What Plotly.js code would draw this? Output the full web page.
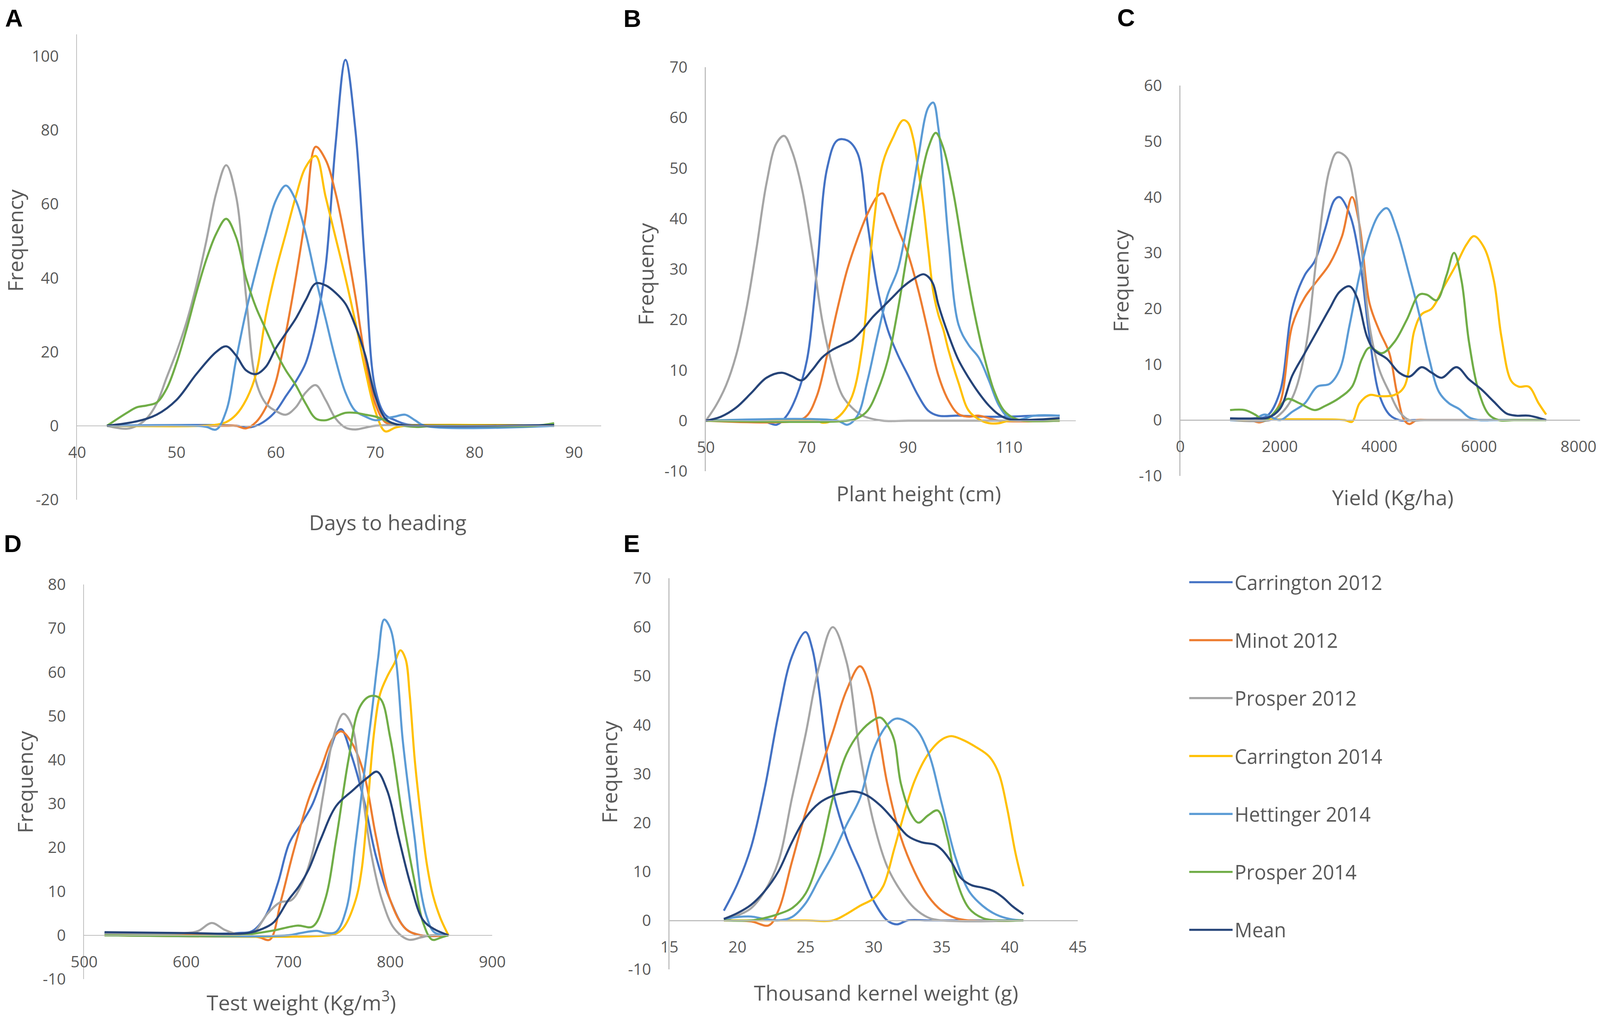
<!DOCTYPE html>
<html><head><meta charset="utf-8">
<script src="https://cdn.plot.ly/plotly-3.0.1.min.js"></script>
<style>html,body{margin:0;padding:0;background:#fff;overflow:hidden}</style>
</head><body><div id="chart"></div>
<script>
// ---------------- DATA ----------------
const seriesNames = ['Carrington 2012','Minot 2012','Prosper 2012','Carrington 2014','Hettinger 2014','Prosper 2014','Mean'];
const seriesColors = ['#4472C4','#ED7D31','#A5A5A5','#FFC000','#5B9BD5','#70AD47','#264478'];

// Panel A: Days to heading (order follows seriesNames)
const dthX = [
  [43,56,57,58,59,60,61,62,63,64,65,66,67,68,69,70,71,72,73,75,88],
  [43,55,56,57,58,59,60,61,62,63,64,65,66,67,68,69,70,71,72,74,88],
  [43,45,46,47,48,49,50,51,52,53,54,55,56,57,58,59,60,61,62,63,64,65,66,67,68,69,70,88],
  [43,53,54,55,56,57,58,59,60,61,62,63,64,65,66,67,68,69,70,71,72,73,88],
  [43,52,53,54,55,56,57,58,59,60,61,62,63,64,65,66,67,68,69,70,71,72,73,74,75,88],
  [43,45,46,47,48,49,50,51,52,53,54,55,56,57,58,59,60,61,62,63,64,65,66,67,68,69,70,71,72,74,76,86,88],
  [43,46,48,50,52,54,55,56,57,58,59,60,61,62,63,64,65,66,67,68,69,70,71,72,75,88]
];
const dthY = [
  [0,0,-0.5,0,1.5,4,8,12,17,27,43,76,99,80,42,10,3,1.5,0.5,0,0],
  [0,0,0,-0.7,1,5,12,25,40,57,75.5,72,63,50,35,18,6,1,0.3,0,0],
  [0,-0.8,0,2,6,13,20,28,38,50,63,70.5,62,35,12,6,4,3,5,9,11,7,2,-0.5,-1,-0.5,0,0],
  [0,0,0.3,1,3,7,14,30,42,52,62,70,73,62,51,40,28,15,4,-1.5,-0.5,0,0],
  [0,0,-0.3,-1,4,18,31,42,52,61,65,61,52,40,29,18,9,4,2.5,1.5,2,2.5,3,1.5,0,0],
  [0,3.5,5,5.5,6.3,10,17,26,36,45,52,56,51,40,32,26,20,15,11,6,2,1.5,2.5,3.5,3.5,3,2.5,1.5,0.5,-0.3,0,0,0.7],
  [0,1.2,3,7,14,20,21.5,19,15,14,16,21,25,29,34,38.5,38,36,33,27,19,8,2,0.5,0,0.2]
];

// Panel B: Plant height (cm)
const phX = [
  [50,60,62,64,66,68,70,72,74,76,78,80,82,84,86,88,90,92,94,96,100,105,110,115,120],
  [50,68,70,72,74,76,78,80,82,84,85,86,88,90,92,94,96,98,100,102,104,106,108,120],
  [50,52,54,56,58,60,62,64,65.5,67,69,71,73,75,77,79,81,85,90,100,120],
  [50,72,73,75,77,79,81,83,85,87,89,90,91,92,93,94,95,96,97,98,100,102,104,106,108,110,120],
  [50,76,78,80,82,84,86,88,90,92,94,95,96,97,98,100,102,104,106,108,110,112,115,120],
  [50,78,80,82,84,86,88,90,92,94,95.5,97,99,101,103,105,107,109,111,113,120],
  [50,53,56,59,62,65,67,69,71,73,75,77,79,81,83,85,87,89,91,93,94,95,96,98,100,102,104,106,108,110,120]
];
const phY = [
  [0,0,-0.3,-0.8,1,5,12,30,50,55.5,55.5,53,39,26,18,13,9,5,2,1,1,0.8,0.8,1,1],
  [0,0,1,5,13,22,30,36,41,44.5,45,43,38,33,26,17.5,9,4,1.3,0.8,1,0.5,0,0],
  [0,3,7,13,22,34,47,55,56.4,53.5,46,34,20,11,5,2.5,1,0,0,0,0],
  [0,0,-0.4,0,1.5,5,15,37,51,56,59.5,59,56,50,43,34,25.5,21,18,14,7.5,2,0.3,-0.5,-0.5,0,0],
  [0,0,-0.8,1,8,17,25,30,40,52,62,63,58,48,36,19,15,12.5,8,3,0.5,0.2,1,1],
  [0,0,0.5,2,6,12,22,34,45,54,57,54,45,33,22,13,6,2,0.5,0,0],
  [0,0.8,2.6,5.5,8.5,9.5,8.8,8,10,12.5,14,15,16,18,20.5,22.5,24.5,26.5,28,29,28.5,27,23,17,12,8.5,5.5,3,1.2,0.3,0.5]
];

// Panel C: Yield (Kg/ha)
const yldX = [
  [1000,1500,1750,2000,2250,2500,2700,2900,3100,3200,3400,3600,3800,4000,4200,4400,4700,7350],
  [1000,1400,1600,1800,2000,2250,2500,2750,3000,3250,3450,3600,3800,4000,4200,4350,4500,4600,4750,5000,5500,7350],
  [1000,1800,2000,2250,2500,2750,3000,3150,3350,3500,3650,3800,4000,4200,4400,4600,4900,7350],
  [1000,3300,3450,3600,3800,4000,4300,4500,4700,4850,5050,5300,5550,5750,5900,6100,6300,6450,6650,6800,7000,7200,7350],
  [1000,1500,1700,2000,2250,2500,2750,3000,3200,3400,3600,3800,4000,4150,4350,4600,4800,5000,5200,5400,5600,5800,6000,6300,7350],
  [1000,1300,1500,1700,2000,2150,2400,2700,2900,3200,3450,3650,3800,4050,4300,4550,4800,4950,5150,5350,5500,5650,5800,6000,6200,6400,6700,7350],
  [1000,1500,1750,2000,2250,2500,2750,3000,3200,3400,3550,3750,3900,4150,4400,4600,4850,5050,5250,5550,5800,6050,6300,6550,6750,7000,7350]
];
const yldY = [
  [0.3,0.3,0.8,5,20,26,28.5,34,39.5,40,37,29,15,4.5,1,0,0,0],
  [0,0,-0.4,0.5,3,17,22,25,28,33,40,35,21,16,12,5,0,-0.7,0,0,0,0],
  [0,0,1,4,12,30,45,48,47,42,30,17,9,5,1.5,0,0,0],
  [0,0,-0.3,3,4.5,4.3,4.5,6,16,19,20,24,28,31.5,33,31,25,15,7,6,6,3,1],
  [0,0.3,1,0,1.5,3,6,6.5,9,17,26,33,37,38,34,26,19,11,5,3,2,0.5,0,0,0],
  [1.8,1.8,1,0,2.5,3.8,3,1.8,2.5,4,6,11,13,12,14,18,22.5,22.5,21.5,26,30,25,14,5,1,0,0,0],
  [0.3,0.3,0.4,2,8,12,16,20,23,24,22,15,12.5,11,8.5,7.8,9.5,8.5,7.6,9.5,7.3,5.5,3.3,1.2,0.8,0.8,0]
];

// Panel D: Test weight (Kg/m3)
const twX = [
  [520,650,665,678,690,701,713,724,736,747,752,762,774,786,800,815,830,857],
  [520,660,672,682,693,705,720,732,744,752,762,774,786,800,815,830,857],
  [520,600,612,625,638,650,665,680,692,703,713,724,735,744,754,762,770,781,792,804,818,830,840,857],
  [520,740,748,755,766,772,778,784,790,797,804,810,815,819,824,830,836,842,849,857],
  [520,700,712,728,737,747,757,766,775,782,788,794,800,806,812,818,824,830,836,843,857],
  [520,650,667,686,709,724,736,747,759,770,780,790,800,812,824,832,841,850,857],
  [520,600,660,675,686,700,710,720,732,747,763,778,787,797,808,820,832,843,857]
];
const twY = [
  [0.5,0.5,1,4.5,12,21,25.5,30,38,46,47,41,31,18,8,1.5,0,0],
  [0,0,-0.5,-1,8,19,31,38,45,46.5,44,37,22.5,8,1.5,0,0],
  [0.5,0.5,1,2.8,1.2,0.3,0.5,5,7.5,8,11.5,19,33,45,50.5,48,37,19,8,1.5,-1,-0.5,0,0],
  [0,0,0.5,2,8,15,30,46,55,59,62,65,63,55,40,27,16,9,4,0],
  [0,0,0.5,1,0.5,0.8,6,21,38,51,63,72,70,62,45,33,22,10,4,0.7,0],
  [0,0,0.4,1.1,2.2,2,8,22,40,52,54.5,54,45,27,12,3,-1,-0.5,0],
  [0.7,0.5,0.5,1.5,3,8,11,15,22,29.5,33,36,37.3,33,22.5,11.5,3.5,1.4,0]
];

// Panel E: Thousand kernel weight (g)
const tkwX = [
  [19,20,21,22,23,24,25,25.5,26,26.5,27,28,29,30,31,31.7,32.5,34,37,41],
  [19,21,22.3,23,24,25,26,27,28,29,29.7,30.5,31,32,33,34,35,36,37,41],
  [19,20,21,22,23,24,25,26,27,28,29,30,31,32,33,34,35,41],
  [19,22,25,27,28,29,30,30.7,31.5,32,33,34,35,35.7,36.5,37.5,38.5,39.2,39.8,40.4,41],
  [19,20,21,22,23,24,25,26,27,28,29,30,31,31.7,33,34,35,36,37,38,39,40,41],
  [19,21,22,23,24,25,26,27,28,29,30,30.5,31,31.5,32,32.8,33.3,34,34.7,35.4,36,37,38,39,41],
  [19,20,21,22,23,24,25,26,27,28,28.5,29.5,30.5,31.5,32.5,33.5,34.5,35,35.7,36.4,37.2,38,38.8,39.5,40.2,41]
];
const tkwY = [
  [2,7.5,15,27,42,54,59,55.5,47,35,26.5,17,10.5,4,0,-0.8,0,0,0,0],
  [0,-0.2,-1,2,12,22,30,38.5,47,52,48,36,28,17,10,5,2,0.5,0,0],
  [0,1,2.5,6,12,25,38,52,60,53,34,20,11,6,2.5,0.6,0,0],
  [0,0,0,0,1.3,3,4.5,7,14.5,19.5,28.5,34,37,37.7,37,35.5,33.5,30,23,14,7],
  [0.3,0.7,0.8,0.3,0,0.7,3.5,8.5,13.5,19.5,25,35,40,41.3,39.5,34.5,24,13,6,3,1.2,0.3,0],
  [0,0,0.5,1.3,2.5,5.5,13,25,34,38.5,41,41.5,40,37,28,21.5,20,21.5,22.5,17,9,2.5,0.5,0,0],
  [0.3,1.5,3.2,6,10,16,21,24,25.5,26.2,26.4,25.6,23.5,20.5,17.3,16,15.5,14.5,12,8.7,7.2,6.7,6,4.7,2.9,1.3]
];

// Tick labels
const dthTicks = [40,50,60,70,80,90];
const phTicks = [50,70,90,110];
const yldTicks = [0,2000,4000,6000,8000];
const twTicks = [500,600,700,800,900];
const tkwTicks = [15,20,25,30,35,40,45];
const freqTicksA = [-20,0,20,40,60,80,100];
const freqTicksB = [-10,0,10,20,30,40,50,60,70];
const freqTicksC = [-10,0,10,20,30,40,50,60];
const freqTicksD = [-10,0,10,20,30,40,50,60,70,80];
const freqTicksE = [-10,0,10,20,30,40,50,60,70];
const panelLetters = ['A','B','C','D','E'];
const xTitles = ['Days to heading','Plant height (cm)','Yield (Kg/ha)','Test weight (Kg/m<sup>3</sup>)','Thousand kernel weight (g)'];
const yTitle = 'Frequency';

// ---------------- LAYOUT ----------------
// Reference frame is 4563 x 2603; the chart is fitted to the actual viewport.
const RW = 4563, RH = 2603;
const W = window.innerWidth || document.documentElement.clientWidth || RW;
const H = window.innerHeight || document.documentElement.clientHeight || RH;
const S = W / RW;
const SY = H / RH;
const fx = px => px / RW;
const fy = py => 1 - py / RH;
const GRAY = '#595959';
const FONT = 'Open Sans, Noto Sans, sans-serif';

const chartDiv = document.getElementById('chart');
chartDiv.style.width = W + 'px';
chartDiv.style.height = H + 'px';

const panels = [
  {xs:dthX, ys:dthY, xt:dthTicks, yt:freqTicksA, xr:[40,92.75], yr:[-20,105.9], px:[220,1715], py:[88,1279],
   letter:[40,46], xtitle:[1106,1336], ytitle:[42,616]},
  {xs:phX, ys:phY, xt:phTicks, yt:freqTicksB, xr:[50,123.2], yr:[-10,70], px:[2013,3068], py:[172,1206],
   letter:[1803,47], xtitle:[2620,1262], ytitle:[1840,702]},
  {xs:yldX, ys:yldY, xt:yldTicks, yt:freqTicksC, xr:[0,8030], yr:[-10,60], px:[3366,4506], py:[219,1218],
   letter:[3211,45], xtitle:[3972,1272], ytitle:[3195,719]},
  {xs:twX, ys:twY, xt:twTicks, yt:freqTicksD, xr:[500,900], yr:[-10,80], px:[240,1404], py:[1496,2506],
   letter:[36,1391], xtitle:[859,2562], ytitle:[70,2002]},
  {xs:tkwX, ys:tkwY, xt:tkwTicks, yt:freqTicksE, xr:[15,45], yr:[-10,70], px:[1909,3074], py:[1480,2481],
   letter:[1801,1391], xtitle:[2527,2540], ytitle:[1737,1976]}
];

const legFont = 56 * S;
const traces = [];
const layout = {
  width: W, height: H,
  margin: {l:0, r:0, t:0, b:0},
  paper_bgcolor: '#ffffff', plot_bgcolor: '#ffffff',
  showlegend: true,
  legend: {
    x: fx(3386), xanchor: 'left', y: fy(1451), yanchor: 'top',
    font: {family: FONT, size: legFont, color: GRAY},
    itemwidth: Math.max(30, Math.round(124 * S)), traceorder: 'grouped',
    tracegroupgap: Math.max(0, 148.6 * SY - 1.366 * legFont),
    bgcolor: 'rgba(0,0,0,0)'
  },
  annotations: []
};

panels.forEach((p, k) => {
  const sfx = k === 0 ? '' : String(k + 1);
  const xDom = [fx(p.px[0]), fx(p.px[1])];
  const yDom = [fy(p.py[1]), fy(p.py[0])];
  const zeroPos = yDom[0] + (0 - p.yr[0]) / (p.yr[1] - p.yr[0]) * (yDom[1] - yDom[0]);
  const tickfont = {family: FONT, size: 45 * S, color: GRAY};
  layout['xaxis' + sfx] = {
    domain: xDom, range: p.xr, anchor: 'free', position: zeroPos,
    tickmode: 'array', tickvals: p.xt, ticktext: p.xt.map(String),
    showline: true, linecolor: '#BFBFBF', linewidth: 3 * S, showgrid: false, zeroline: false,
    ticks: '', tickfont: tickfont, ticklabelstandoff: Math.round(32 * SY), fixedrange: true
  };
  layout['yaxis' + sfx] = {
    domain: yDom, range: p.yr, anchor: 'x' + sfx,
    tickmode: 'array', tickvals: p.yt, ticktext: p.yt.map(String),
    showline: true, linecolor: '#BFBFBF', linewidth: 3 * S, showgrid: false, zeroline: false,
    ticks: '', tickfont: tickfont, ticklabelstandoff: Math.round(40 * S), fixedrange: true
  };
  for (let i = 0; i < seriesNames.length; i++) {
    traces.push({
      type: 'scatter', mode: 'lines',
      x: p.xs[i], y: p.ys[i],
      xaxis: 'x' + sfx, yaxis: 'y' + sfx,
      name: seriesNames[i], legendgroup: 'g' + i, showlegend: k === 0,
      line: {color: seriesColors[i], width: 6 * S, shape: 'spline', smoothing: 1}
    });
  }
  layout.annotations.push({
    text: '<b>' + panelLetters[k] + '</b>', xref: 'paper', yref: 'paper',
    x: fx(p.letter[0]), y: fy(p.letter[1]), xanchor: 'center', yanchor: 'middle',
    showarrow: false, font: {family: 'Liberation Sans, Arial, sans-serif', size: 70 * S, color: '#000000'}
  });
  layout.annotations.push({
    text: xTitles[k], xref: 'paper', yref: 'paper',
    x: fx(p.xtitle[0]), y: fy(p.xtitle[1]), xanchor: 'center', yanchor: 'middle',
    showarrow: false, font: {family: FONT, size: 60 * S, color: GRAY}
  });
  layout.annotations.push({
    text: yTitle, xref: 'paper', yref: 'paper', textangle: -90,
    x: fx(p.ytitle[0]), y: fy(p.ytitle[1]), xanchor: 'center', yanchor: 'middle',
    showarrow: false, font: {family: FONT, size: 60 * S, color: GRAY}
  });
});

Plotly.newPlot('chart', traces, layout, {staticPlot: true, displayModeBar: false});
</script></body></html>
